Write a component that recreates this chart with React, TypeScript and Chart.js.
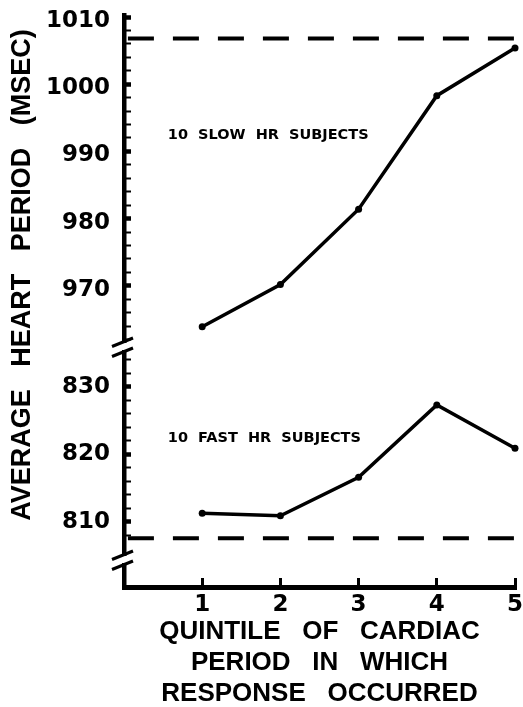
import { useEffect, useRef } from 'react';
import { Chart, registerables } from 'chart.js';

Chart.register(...registerables);

// ---- data ----
const quintiles = [1, 2, 3, 4, 5];
const slowHR = [963.9, 970.2, 981.4, 998.3, 1005.4];
const fastHR = [811.25, 810.9, 816.6, 827.3, 820.9];
const slowRef = 1006.8;
const fastRef = 807.55;
const refSpan = [0.05, 5.07];
const xTickLabels = ['', '1', '2', '3', '4', '5'];
const yTopLabels = [970, 980, 990, 1000, 1010];
const yBotLabels = [810, 820, 830];
const slowLabel = '10  SLOW  HR  SUBJECTS';
const fastLabel = '10  FAST  HR  SUBJECTS';
const slowLabelPos = [0.56, 992.4];
const fastLabelPos = [0.56, 822.4];
const yTitle = 'AVERAGE   HEART   PERIOD   (MSEC)';
const xTitle = ['QUINTILE   OF   CARDIAC', 'PERIOD   IN   WHICH', 'RESPONSE   OCCURRED'];

const BLACK = '#000';
const DIGITS = "'DejaVu Sans'";
const TEXT = "'Liberation Sans'";

const overlayPlugin = {
  id: 'overlay',
  afterDraw(chart: any) {
    const { ctx, scales } = chart;
    const x0 = scales.yTop.right;
    // axis break marks
    const ys = [scales.yTop.bottom, scales.yBot.top, scales.yBot.bottom, scales.yStub.top];
    ctx.save();
    ctx.strokeStyle = BLACK;
    ctx.lineWidth = 3;
    for (const y of ys) {
      ctx.beginPath();
      ctx.moveTo(x0 - 12, y + 4.5);
      ctx.lineTo(x0 + 9, y - 4);
      ctx.stroke();
    }
    // annotations
    ctx.fillStyle = BLACK;
    ctx.font = `bold 14.5px ${DIGITS}`;
    ctx.textAlign = 'left';
    ctx.textBaseline = 'middle';
    ctx.fillText(slowLabel, scales.x.getPixelForValue(slowLabelPos[0]), scales.yTop.getPixelForValue(slowLabelPos[1]));
    ctx.fillText(fastLabel, scales.x.getPixelForValue(fastLabelPos[0]), scales.yBot.getPixelForValue(fastLabelPos[1]));
    // y title
    ctx.translate(23, 275);
    ctx.rotate(-Math.PI / 2);
    ctx.font = `bold 27px ${TEXT}`;
    ctx.textAlign = 'center';
    ctx.fillText(yTitle, 0, 0);
    ctx.restore();
  },
};

const fixWidth = (s: any) => {
  s.width = 116;
  s.paddingTop = 0;
  s.paddingBottom = 0;
};

function valueAxis(min: number, max: number, weight: number, stackWeight: number, labels: number[], labelOffset: number) {
  return {
    type: 'linear',
    position: 'left',
    stack: 'v',
    stackWeight,
    weight,
    min,
    max,
    afterFit: fixWidth,
    border: { display: true, color: BLACK, width: 4.5 },
    grid: {
      display: true,
      drawOnChartArea: false,
      drawTicks: true,
      tickLength: -7,
      tickColor: (c: any) => (c.tick && c.tick.value >= 807 ? BLACK : 'rgba(0,0,0,0)'),
      tickWidth: (c: any) => (c.tick && Math.abs(c.tick.value % 10) < 1e-6 ? 4.5 : 2),
    },
    ticks: {
      stepSize: 2,
      maxTicksLimit: 100,
      autoSkip: false,
      includeBounds: false,
      padding: 21,
      labelOffset,
      color: BLACK,
      font: { family: DIGITS, weight: 'bold', size: 23 },
      callback: (v: any) => (labels.includes(Math.round(v)) && Math.abs(v - Math.round(v)) < 1e-6 ? String(Math.round(v)) : ''),
    },
  };
}

function blankAxis(weight: number, stackWeight: number, showBorder: boolean) {
  return {
    type: 'linear',
    position: 'left',
    stack: 'v',
    stackWeight,
    weight,
    min: 0,
    max: 1,
    afterFit: fixWidth,
    border: { display: showBorder, color: BLACK, width: 4.5 },
    grid: { display: false },
    ticks: { display: false },
  };
}

export default function App() {
  const ref = useRef<HTMLCanvasElement>(null);

  useEffect(() => {
    const canvas = ref.current;
    if (!canvas) return;
    const line = (data: any[], yAxisID: string) => ({
      data,
      yAxisID,
      xAxisID: 'x',
      borderColor: BLACK,
      backgroundColor: BLACK,
      borderWidth: 3.5,
      pointRadius: 3.5,
      pointBackgroundColor: BLACK,
      pointBorderWidth: 0,
      tension: 0,
      clip: false,
    });
    const dashed = (value: number, yAxisID: string) => ({
      data: refSpan.map((x) => ({ x, y: value })),
      yAxisID,
      xAxisID: 'x',
      borderColor: BLACK,
      borderWidth: 4,
      borderDash: [26, 19],
      borderCapStyle: 'butt',
      pointRadius: 0,
      clip: false,
    });

    const chart = new Chart(canvas, {
      type: 'line',
      data: {
        datasets: [
          line(quintiles.map((q, i) => ({ x: q, y: slowHR[i] })), 'yTop'),
          line(quintiles.map((q, i) => ({ x: q, y: fastHR[i] })), 'yBot'),
          dashed(slowRef, 'yTop'),
          dashed(fastRef, 'yBot'),
        ] as any,
      },
      options: {
        animation: false,
        responsive: false,
        events: [],
        layout: { padding: { left: 8, top: 15, right: 8, bottom: 0 } },
        plugins: {
          legend: { display: false },
          tooltip: { enabled: false },
          title: { display: false },
        },
        scales: {
          x: {
            type: 'linear',
            position: 'bottom',
            min: 0,
            max: 5,
            afterFit: (s: any) => {
              s.height = 120;
              s.paddingLeft = 0;
              s.paddingRight = 0;
            },
            border: { display: true, color: BLACK, width: 5 },
            grid: {
              display: true,
              drawOnChartArea: false,
              drawTicks: true,
              tickLength: -9,
              tickWidth: 3,
              tickColor: (c: any) => (c.tick && c.tick.value > 0 ? BLACK : 'rgba(0,0,0,0)'),
            },
            ticks: {
              stepSize: 1,
              autoSkip: false,
              maxRotation: 0,
              padding: 13,
              color: BLACK,
              font: { family: DIGITS, weight: 'bold', size: 23 },
              callback: (v: any) => xTickLabels[Math.round(v)] ?? '',
            },
            title: {
              display: true,
              text: xTitle,
              color: BLACK,
              font: { family: TEXT, weight: 'bold', size: 26, lineHeight: '31px' },
              padding: { top: 0, bottom: -2 },
            },
          },
          yTop: valueAxis(961.64, 1010.3, 5, 327, yTopLabels, 4),
          yGap1: blankAxis(4, 10, false),
          yBot: valueAxis(805.08, 835.15, 3, 203, yBotLabels, 0),
          yGap2: blankAxis(2, 10, false),
          yStub: blankAxis(1, 22, true),
        } as any,
      },
      plugins: [overlayPlugin],
    } as any);
    return () => chart.destroy();
  }, []);

  return (
    <canvas
      ref={ref}
      width={523}
      height={707}
      style={{ position: 'absolute', left: 0, top: 0, display: 'block', background: '#fff' }}
    />
  );
}
